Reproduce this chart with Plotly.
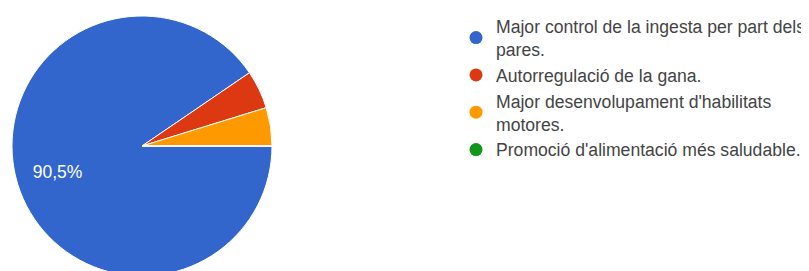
import plotly.graph_objects as go

categories = [
    "Major control de la ingesta per part dels<br>pares.",
    "Autorregulació de la gana.",
    "Major desenvolupament d'habilitats<br>motores.",
    "Promoció d'alimentació més saludable.",
]
values = [19, 1, 1, 0]
colors = ["#3366cc", "#dc3912", "#ff9900", "#109618"]
label_templates = ["%{percent:.1%}", "", "", ""]

W, H = 809, 271
PAGE_OFF = 8  # default body margin of the html page

fig = go.Figure()
# solid pie
fig.add_trace(go.Pie(
    labels=categories,
    values=values,
    marker=dict(colors=colors, line=dict(color="white", width=1)),
    sort=False,
    direction="clockwise",
    rotation=90,
    textinfo="none",
    showlegend=False,
    hoverinfo="label+percent",
    domain=dict(x=[0, 268 / W], y=[0, 1]),
))
# transparent ring carrying the percentage labels (places them further out)
fig.add_trace(go.Pie(
    labels=categories,
    values=values,
    hole=0.36,
    marker=dict(colors=["rgba(0,0,0,0)"] * len(values), line=dict(width=0)),
    sort=False,
    direction="clockwise",
    rotation=90,
    texttemplate=label_templates,
    textposition="inside",
    insidetextorientation="horizontal",
    textfont=dict(color="white", size=17.5, family="Arial"),
    showlegend=False,
    hoverinfo="skip",
    domain=dict(x=[0, 268 / W], y=[0, 1]),
))

for name, col in zip(categories, colors):
    fig.add_trace(go.Scatter(
        x=[None], y=[None], mode="markers", name=name,
        marker=dict(color=col, size=13, symbol="circle"),
        showlegend=True,
    ))

fig.update_layout(
    width=W, height=H,
    margin=dict(l=0, r=0, t=4, b=3),
    paper_bgcolor="white",
    plot_bgcolor="white",
    separators=", ",
    font=dict(family="Arial", color="#444444", size=17.6),
    xaxis=dict(visible=False),
    yaxis=dict(visible=False),
    legend=dict(
        x=448 / W, xanchor="left",
        y=1.03, yanchor="top",
        font=dict(size=17.6, color="#444444"),
        bgcolor="rgba(0,0,0,0)",
        maxheight=260,
        itemclick=False,
    ),
)

fig.write_html("out.html")
